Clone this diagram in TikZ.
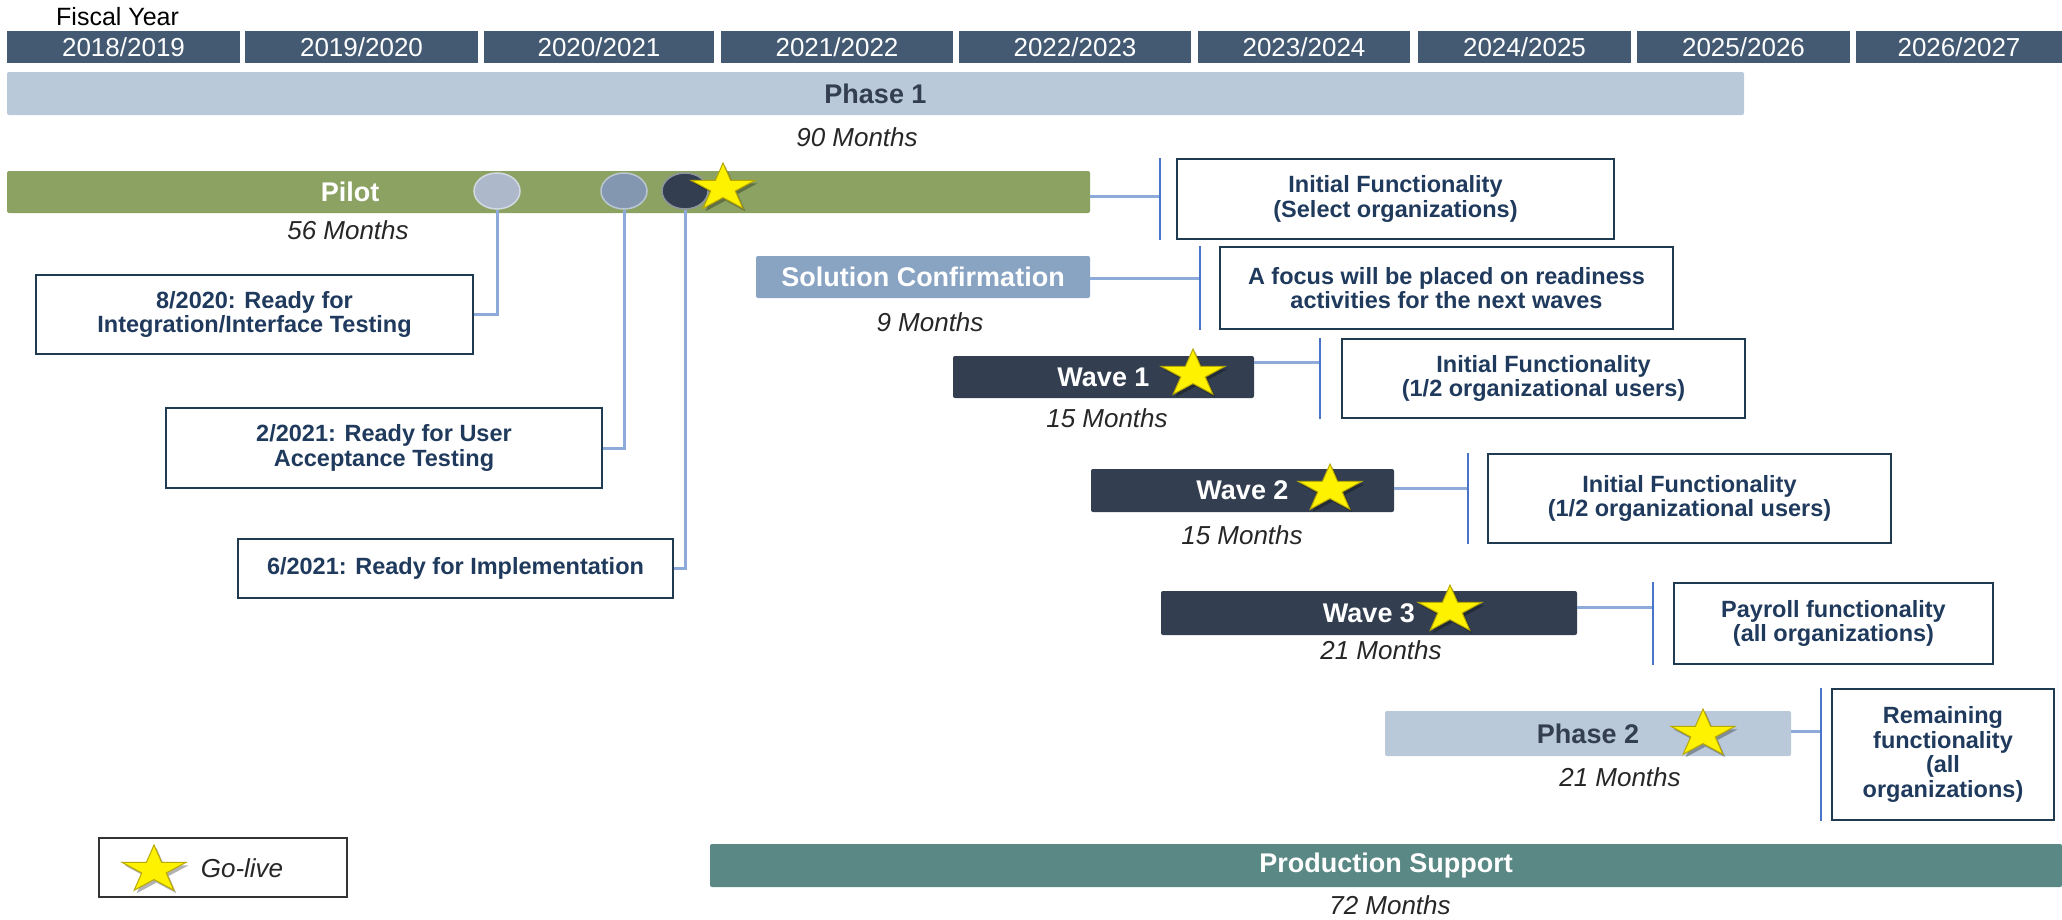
\documentclass[tikz,border=0pt]{standalone}
\usepackage{fontspec}
\setmainfont{Liberation Sans}
\usetikzlibrary{shapes.geometric,shadows}

\definecolor{yearblue}{HTML}{435A72}
\definecolor{phaselight}{HTML}{B9C9D9}
\definecolor{pilotgreen}{HTML}{8CA262}
\definecolor{solconf}{HTML}{89A3C3}
\definecolor{wavedark}{HTML}{333F50}
\definecolor{prodteal}{HTML}{5A8885}
\definecolor{linkblue}{HTML}{8EAADB}
\definecolor{brkblue}{HTML}{4A74C9}
\definecolor{boxline}{HTML}{203A4F}
\definecolor{boxtext}{HTML}{1F3A5C}
\definecolor{dotlight}{HTML}{ADB9CA}
\definecolor{dotmid}{HTML}{8497B0}
\definecolor{staredge}{HTML}{B8A800}

\begin{document}
\begin{tikzpicture}[
        x=1pt, y=-1pt,
        year/.style={
            fill=yearblue, text=white,
            minimum width=#1, minimum height=32,
            inner sep=0,
            font=\fontsize{26}{28}\selectfont
        },
        bar/.style={
            rounded corners=2pt,
            minimum height=43, inner sep=0,
            text=white,
            font=\fontsize{27}{30}\selectfont\bfseries
        },
        barlbl/.style={inner sep=0, text=white, font=\fontsize{27}{30}\selectfont\bfseries},
        months/.style={inner sep=0, text=black!85, font=\fontsize{26}{28}\selectfont\itshape},
        outbox/.style={
            draw=boxline, line width=2pt,
            align=center, inner sep=0,
            text=boxtext,
            font=\fontsize{23.5}{24.5}\selectfont\bfseries
        },
        dot/.style={ellipse, minimum width=46, minimum height=36, inner sep=0,
            fill=#1, draw=#1!55!white, line width=1.5pt},
        link/.style={linkblue, line width=3pt},
        brk/.style={brkblue, line width=2pt},
        gostar/.style={
            star, star points=5, star point ratio=2.618,
            minimum size=50, inner sep=0,
            fill=yellow, draw=staredge, line width=1pt,
            xscale=1.35, transform shape,
            drop shadow={shadow xshift=2.5pt, shadow yshift=-3pt, fill=black, opacity=0.3}
        },
        golive/.pic={\node[gostar] (-s) {};}
    ]

    \useasboundingbox (0,0) rectangle (2062,919);

    \node[anchor=west, inner sep=0, font=\fontsize{25}{27}\selectfont] (fiscal) at (56,17) {Fiscal Year};

    \foreach \a/\xa/\xb in {2018/7/240, 2019/245/478, 2020/484/714, 2021/721/953,
        2022/959/1191, 2023/1198/1410, 2024/1418/1631, 2025/1637/1850, 2026/1856/2062}{
        \pgfmathtruncatemacro\b{\a+1}
        \node[year={\xb-\xa}] (fy\a) at ({(\xa+\xb)/2},47) {\a/\b};
    }

    % bars
    \node[bar, fill=phaselight, text=wavedark, minimum width=1737] (phase1) at (875.5,93.5) {Phase 1};
    \node[bar, fill=pilotgreen, minimum width=1083, minimum height=42] (pilot) at (548.5,192) {};
    \node[barlbl] (pilotlbl) at (350,192) {Pilot};
    \node[bar, fill=solconf, minimum width=334, minimum height=42] (solconf) at (923,277) {Solution Confirmation};
    \node[bar, fill=wavedark, minimum width=301, minimum height=42] (wave1) at (1103.5,377) {Wave 1};
    \node[bar, fill=wavedark, minimum width=303] (wave2) at (1242.5,490.5) {Wave 2};
    \node[bar, fill=wavedark, minimum width=416, minimum height=44] (wave3) at (1369,613) {Wave 3};
    \node[bar, fill=phaselight, text=wavedark, minimum width=406, minimum height=45] (phase2) at (1588,733.5) {Phase 2};
    \node[bar, fill=prodteal, minimum width=1352] (prodsup) at (1386,865.5) {Production Support};

    \node[months] (m90) at (857,137) {90 Months};
    \node[months] (m56) at (348,230) {56 Months};
    \node[months] (m9) at (930,322) {9 Months};
    \node[months] (m15a) at (1107,418) {15 Months};
    \node[months] (m15b) at (1242,535) {15 Months};
    \node[months] (m21a) at (1381,650) {21 Months};
    \node[months] (m21b) at (1620,777) {21 Months};
    \node[months] (m72) at (1390,905) {72 Months};

    % milestones
    \node[outbox, minimum width=437, minimum height=79] (ms1) at (254.5,314.5)
        {8/2020: Ready for\\Integration/Interface Testing};
    \node[outbox, minimum width=436, minimum height=80] (ms2) at (384,448)
        {2/2021: Ready for User\\Acceptance Testing};
    \node[outbox, minimum width=435, minimum height=59] (ms3) at (455.5,568.5)
        {6/2021: Ready for Implementation};

    \node[dot=dotlight] (c1) at (497,191) {};
    \node[dot=dotmid] (c2) at (624,191) {};
    \node[dot=wavedark] (c3) at (685,191) {};

    \draw[link] (c1.south) |- (ms1.east);
    \draw[link] (c2.south) |- (ms2.east);
    \draw[link] (c3.south) |- (ms3.east);

    % outcomes
    \node[outbox, minimum width=437, minimum height=80] (o1) at (1395.5,199)
        {Initial Functionality\\(Select organizations)};
    \node[outbox, minimum width=453, minimum height=82] (o2) at (1446.5,288)
        {A focus will be placed on readiness\\activities for the next waves};
    \node[outbox, minimum width=403, minimum height=79] (o3) at (1543.5,378.5)
        {Initial Functionality\\(1/2 organizational users)};
    \node[outbox, minimum width=403, minimum height=89] (o4) at (1689.5,498.5)
        {Initial Functionality\\(1/2 organizational users)};
    \node[outbox, minimum width=319, minimum height=81] (o5) at (1833.5,623.5)
        {Payroll functionality\\(all organizations)};
    \node[outbox, minimum width=222, minimum height=131] (o6) at (1943,754.5)
        {Remaining\\functionality\\(all\\organizations)};

    \coordinate (b1) at (1160,196);
    \coordinate (b2) at (1200,278);
    \coordinate (b3) at (1320,362);
    \coordinate (b4) at (1468,488);
    \coordinate (b5) at (1653,607);
    \coordinate (b6) at (1821,731);

    \draw[link] (pilot.east |- b1) -- (b1);
    \draw[link] (solconf.east |- b2) -- (b2);
    \draw[link] (wave1.east |- b3) -- (b3);
    \draw[link] (wave2.east |- b4) -- (b4);
    \draw[link] (wave3.east |- b5) -- (b5);
    \draw[link] (phase2.east |- b6) -- (b6);

    \draw[brk] (b1 |- o1.north) -- (b1 |- o1.south);
    \draw[brk] (b2 |- o2.north) -- (b2 |- o2.south);
    \draw[brk] (b3 |- o3.north) -- (b3 |- o3.south);
    \draw[brk] (b4 |- o4.north) -- (b4 |- o4.south);
    \draw[brk] (b5 |- o5.north) -- (b5 |- o5.south);
    \draw[brk] (b6 |- o6.north) -- (b6 |- o6.south);

    % go-live stars
    \pic (s1) at (723,188) {golive};
    \pic (s2) at (1193,374) {golive};
    \pic (s3) at (1330,489) {golive};
    \pic (s4) at (1450,610) {golive};
    \pic (s5) at (1703,734) {golive};

    \node[draw=black!80, line width=2pt, minimum width=248, minimum height=59, inner sep=0] (legend) at (223,867.5) {};
    \pic (s0) at (154,870) {golive};
    \node[months] (golbl) at (242,868) {Go-live};

\end{tikzpicture}
\end{document}
